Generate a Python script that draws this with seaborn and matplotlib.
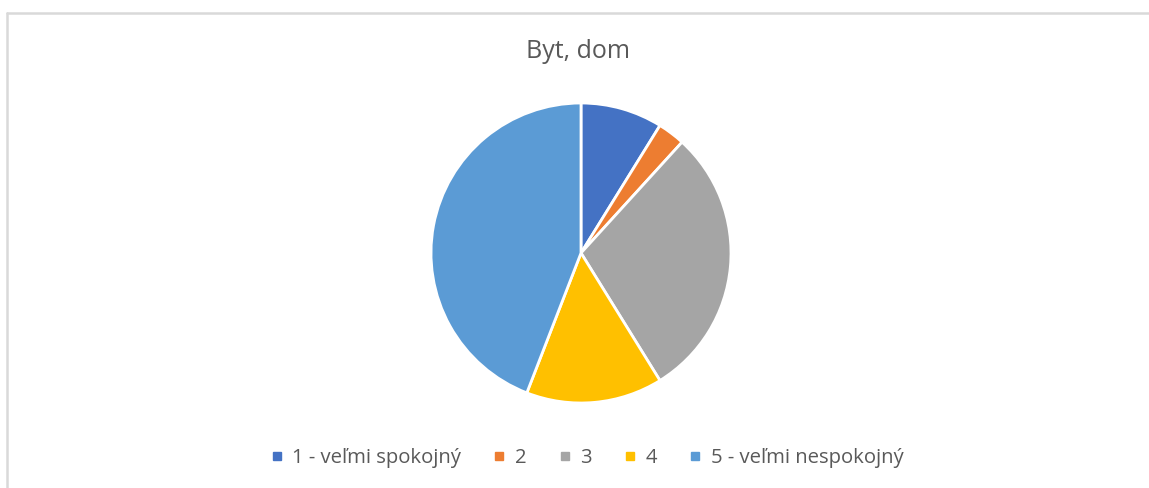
import matplotlib
matplotlib.use("Agg")
import matplotlib.pyplot as plt
from matplotlib.lines import Line2D
import seaborn as sns

# data
labels = ["1 - veľmi spokojný", "2", "3", "4", "5 - veľmi nespokojný"]
counts = [6, 2, 20, 10, 30]
colors = ["#4472C4", "#ED7D31", "#A5A5A5", "#FFC000", "#5B9BD5"]
title = "Byt, dom"

sns.set_theme(style="white")
plt.rcParams["font.family"] = ["Open Sans", "DejaVu Sans"]

W, H = 1149, 488
fig = plt.figure(figsize=(W / 100, H / 100), dpi=100)
fig.patch.set_facecolor("white")

# pie axes, placed in pixels
cx, cy, r = 581, 253, 150
ax = fig.add_axes([(cx - r) / W, (H - cy - r) / H, 2 * r / W, 2 * r / H])
ax.pie(counts, colors=colors, startangle=90, counterclock=False,
       wedgeprops=dict(edgecolor="white", linewidth=2))
ax.set_aspect("equal")
ax.set_xlim(-1, 1)
ax.set_ylim(-1, 1)
ax.axis("off")

# title
fig.text(578 / W, 1 - 51 / H, title, ha="center", va="center",
         fontsize=18, color="#595959")

# legend
handles = [Line2D([], [], marker="s", linestyle="", markersize=5.8,
                  markerfacecolor=c, markeredgecolor=c) for c in colors]
leg = fig.legend(handles, labels, loc="center", ncol=5,
                 bbox_to_anchor=(587 / W, 1 - 458 / H), frameon=False,
                 handlelength=0.6, handletextpad=0.45, columnspacing=1.6,
                 prop=dict(size=14.6))
for t in leg.get_texts():
    t.set_color("#595959")

# chart border (top and left edges visible)
border = "#d9d9d9"
fig.add_artist(Line2D([6.5 / W, 1], [1 - 12.5 / H, 1 - 12.5 / H],
                      transform=fig.transFigure, color=border, linewidth=1.8))
fig.add_artist(Line2D([6.5 / W, 6.5 / W], [0, 1 - 12.5 / H],
                      transform=fig.transFigure, color=border, linewidth=1.8))

fig.savefig("out.png", dpi=100)
